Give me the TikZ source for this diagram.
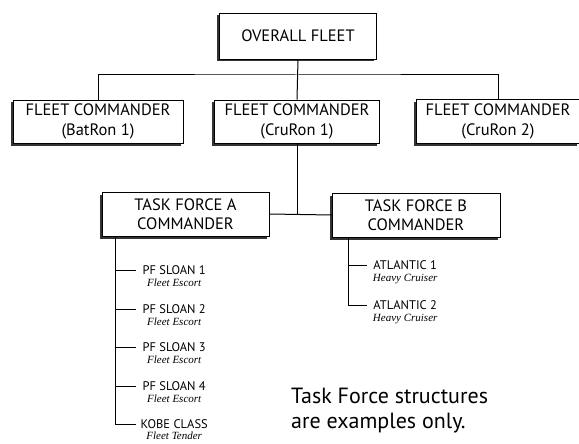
\documentclass[tikz,border=0pt]{standalone}
\usepackage{fontspec}
\setmainfont{PT Sans}
\newfontfamily\shipfont{Liberation Serif}
\usetikzlibrary{shadows,positioning}

\tikzset{
  unitbox/.style={draw, fill=white, line width=0.9pt, align=center, inner sep=0pt,
    font=\fontsize{16.5}{19.5}\selectfont,
    drop shadow={shadow xshift=-2.5pt, shadow yshift=-2.5pt, fill=black!80, opacity=1}},
  shipname/.style={anchor=west, inner sep=0pt, minimum width=76pt, font=\fontsize{12.5}{13}\selectfont},
  shiptype/.style={inner sep=0pt, font=\fontsize{11}{12}\shipfont\itshape},
  link/.style={line width=1pt}
}

\begin{document}
\begin{tikzpicture}[x=1pt, y=-1pt]
        \useasboundingbox (0,0) rectangle (579,444);
        % command boxes
        \node[unitbox, minimum width=157pt, minimum height=46pt] (fleet) at (298, 36) {OVERALL FLEET};
        \node[unitbox, minimum width=170pt, minimum height=43pt] (bat) at (98, 121.5) {FLEET COMMANDER\\(BatRon 1)};
        \node[unitbox, minimum width=165pt, minimum height=43pt] (cru1) at (297, 121.5) {FLEET COMMANDER\\(CruRon 1)};
        \node[unitbox, minimum width=163pt, minimum height=44pt] (cru2) at (498, 121.5) {FLEET COMMANDER\\(CruRon 2)};
        \node[unitbox, minimum width=167pt, minimum height=44pt] (tfa) at (185.5, 214) {TASK FORCE A\\COMMANDER};
        \node[unitbox, minimum width=168pt, minimum height=44pt] (tfb) at (416, 215) {TASK FORCE B\\COMMANDER};
        \coordinate (bus) at (297, 75);
        \draw[link] (fleet.south) -- (cru1.north);
        \draw[link] (bat.north) |- (bus) -| (cru2.north);
        \draw[link] (tfa.east) -- (tfb.west);
        \draw[link] (cru1.south) -- (cru1.south |- tfa.east);
        % task force A ships
        \node[shipname] (a1) at (136, 270) {PF SLOAN 1};
        \node[shiptype, below=4pt of a1] (a1t) {Fleet Escort};
        \node[shipname] (a2) at (136, 309) {PF SLOAN 2};
        \node[shiptype, below=4pt of a2] (a2t) {Fleet Escort};
        \node[shipname] (a3) at (136, 347) {PF SLOAN 3};
        \node[shiptype, below=4pt of a3] (a3t) {Fleet Escort};
        \node[shipname] (a4) at (136, 386) {PF SLOAN 4};
        \node[shiptype, below=4pt of a4] (a4t) {Fleet Escort};
        \node[shipname] (a5) at (136, 424) {KOBE CLASS};
        \node[shiptype, below=3pt of a5] (a5t) {Fleet Tender};
        \coordinate (spineA) at (115, 0);
        \draw[link] (tfa.south -| spineA) |- (a5.west);
        \draw[link] (spineA |- a1.west) -- (a1.west);
        \draw[link] (spineA |- a2.west) -- (a2.west);
        \draw[link] (spineA |- a3.west) -- (a3.west);
        \draw[link] (spineA |- a4.west) -- (a4.west);
        % task force B ships
        \node[shipname] (b1) at (367, 265) {ATLANTIC 1};
        \node[shiptype, below=4pt of b1] (b1t) {Heavy Cruiser};
        \node[shipname] (b2) at (367, 305) {ATLANTIC 2};
        \node[shiptype, below=4pt of b2] (b2t) {Heavy Cruiser};
        \coordinate (spineB) at (348, 0);
        \draw[link] (tfb.south -| spineB) |- (b2.west);
        \draw[link] (spineB |- b1.west) -- (b1.west);
        % note
        \node[anchor=north west, align=left, inner sep=0pt, font=\fontsize{22}{25}\selectfont] (note) at (291, 388) {Task Force structures\\are examples only.};
    \end{tikzpicture}
\end{document}
